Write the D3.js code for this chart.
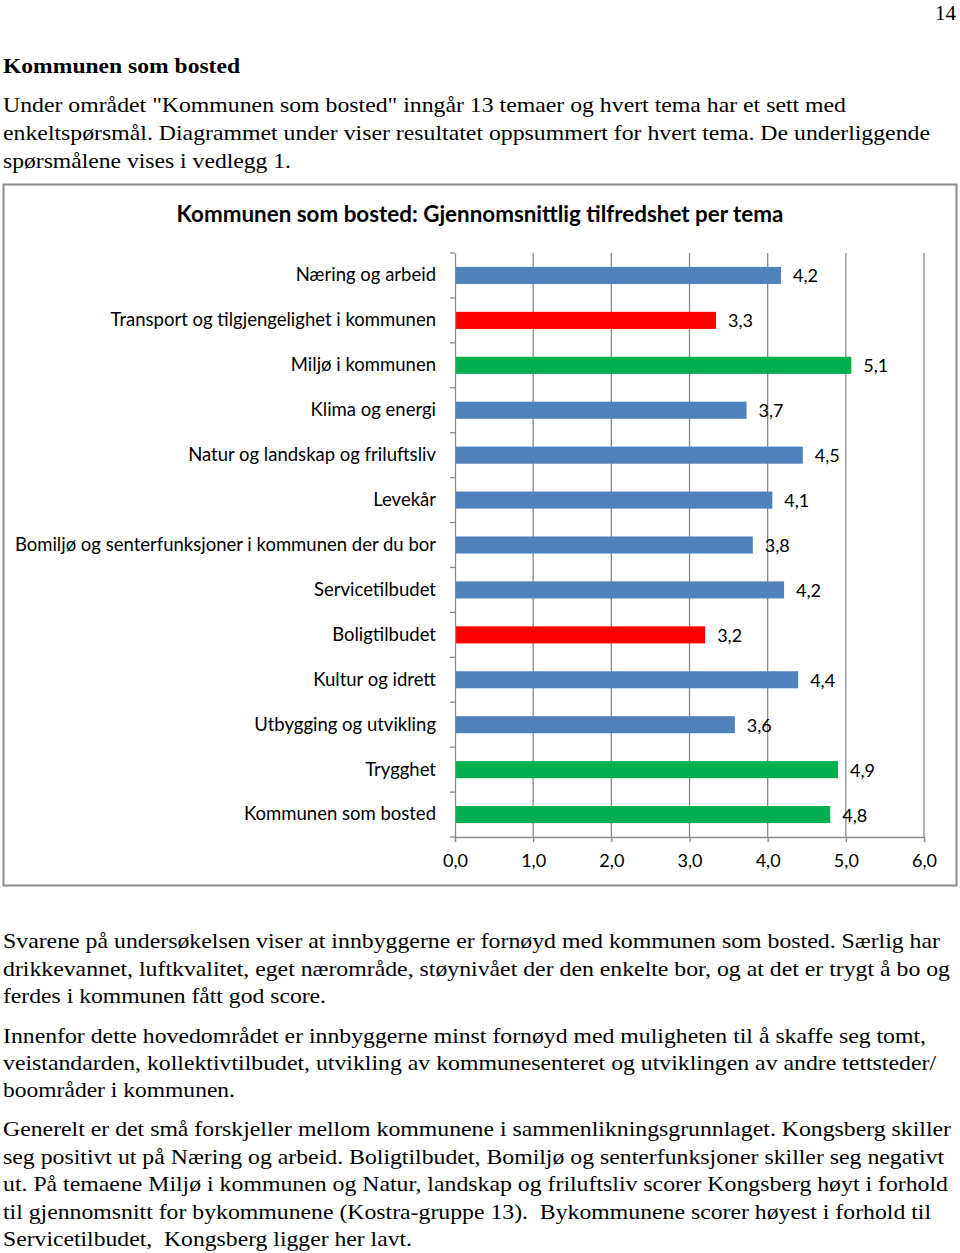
<!DOCTYPE html>
<html><head><meta charset="utf-8">
<script src="https://cdn.jsdelivr.net/npm/d3@7"></script>
<style>body{margin:0;background:#fff}svg{display:block}text{white-space:pre}</style>
</head><body>
<script>
const categories = ["Næring og arbeid","Transport og tilgjengelighet i kommunen","Miljø i kommunen","Klima og energi","Natur og landskap og friluftsliv","Levekår","Bomiljø og senterfunksjoner i kommunen der du bor","Servicetilbudet","Boligtilbudet","Kultur og idrett","Utbygging og utvikling","Trygghet","Kommunen som bosted"];
const values = [4.17,3.34,5.07,3.73,4.45,4.06,3.81,4.21,3.20,4.39,3.58,4.90,4.80];
const colorGroups = ["blue","red","green","blue","blue","blue","blue","blue","red","blue","blue","green","green"];
const xTicks = [0,1,2,3,4,5,6];
const title = "Kommunen som bosted: Gjennomsnittlig tilfredshet per tema";
const heading = "Kommunen som bosted";
const introLines = ["Under området \"Kommunen som bosted\" inngår 13 temaer og hvert tema har et sett med","enkeltspørsmål. Diagrammet under viser resultatet oppsummert for hvert tema. De underliggende","spørsmålene vises i vedlegg 1."];
const outroLines = [
 "Svarene på undersøkelsen viser at innbyggerne er fornøyd med kommunen som bosted. Særlig har",
 "drikkevannet, luftkvalitet, eget nærområde, støynivået der den enkelte bor, og at det er trygt å bo og",
 "ferdes i kommunen fått god score.",
 "Innenfor dette hovedområdet er innbyggerne minst fornøyd med muligheten til å skaffe seg tomt,",
 "veistandarden, kollektivtilbudet, utvikling av kommunesenteret og utviklingen av andre tettsteder/",
 "boområder i kommunen.",
 "Generelt er det små forskjeller mellom kommunene i sammenlikningsgrunnlaget. Kongsberg skiller",
 "seg positivt ut på Næring og arbeid. Boligtilbudet, Bomiljø og senterfunksjoner skiller seg negativt",
 "ut. På temaene Miljø i kommunen og Natur, landskap og friluftsliv scorer Kongsberg høyt i forhold",
 "til gjennomsnitt for bykommunene (Kostra-gruppe 13).  Bykommunene scorer høyest i forhold til",
 "Servicetilbudet,  Kongsberg ligger her lavt."];

const W = 960, H = 1253;
const svg = d3.select("body").append("svg").attr("width", W).attr("height", H);
const serif = "'Liberation Serif','Times New Roman',serif";
const sans = "Lato, 'Open Sans', sans-serif";

// page text
svg.append("text").attr("x", 956).attr("y", 20).attr("text-anchor","end")
  .attr("font-family", serif).attr("font-size", 21).text("14");
svg.append("text").attr("x", 3).attr("y", 73).attr("font-family", serif)
  .attr("font-size", 22).attr("font-weight","bold").attr("textLength", 237)
  .attr("lengthAdjust","spacingAndGlyphs").text(heading);
const introW = [843, 927, 288];
introLines.forEach((t,i)=>{
  svg.append("text").attr("x",3).attr("y",112+i*28).attr("font-family",serif)
    .attr("font-size",22).attr("textLength",introW[i]).attr("lengthAdjust","spacingAndGlyphs").text(t);
});
const outroW = [937,947,323,923,933,232,948,941,945,928,409];
const outroY = [948,976,1003,1043,1070,1097,1136,1164,1191,1219,1246];
outroLines.forEach((t,i)=>{
  svg.append("text").attr("x",3).attr("y",outroY[i]).attr("font-family",serif)
    .attr("font-size",22).attr("textLength",outroW[i]).attr("lengthAdjust","spacingAndGlyphs").text(t);
});

// chart frame
svg.append("rect").attr("x",3.5).attr("y",184.5).attr("width",953).attr("height",701)
  .attr("fill","#fff").attr("stroke","#8c8c8c").attr("stroke-width",2);
svg.append("text").attr("x",480).attr("y",222).attr("text-anchor","middle")
  .attr("font-family",sans).attr("font-weight","bold").attr("font-size",22.4).text(title);

const x = d3.scaleLinear().domain([0,6]).range([455,924]);
const y = d3.scaleBand().domain(categories).range([253,837]).paddingInner(0.62).paddingOuter(0.31);
const colors = {blue:"#4F81BD", red:"#FF0000", green:"#00B050"};

// gridlines
svg.append("g").selectAll("line").data(xTicks.slice(1)).join("line")
  .attr("x1",d=>x(d)).attr("x2",d=>x(d)).attr("y1",253).attr("y2",837)
  .attr("stroke","#8a8a8a").attr("stroke-width",1.3);

// bars
svg.append("g").selectAll("rect").data(values).join("rect")
  .attr("x",x(0)).attr("y",(d,i)=>y(categories[i]))
  .attr("width",d=>x(d)-x(0)).attr("height",y.bandwidth())
  .attr("fill",(d,i)=>colors[colorGroups[i]]);

// value labels
const fmt = d => d3.format(".1f")(d).replace(".",",");
svg.append("g").selectAll("text").data(values).join("text")
  .attr("x",d=>x(d)+12).attr("y",(d,i)=>y(categories[i])+y.bandwidth()/2+7)
  .attr("font-family",sans).attr("font-size",18).attr("fill","#000").text(fmt);

// x axis
const xAxis = d3.axisBottom(x).tickValues(xTicks).tickSize(5).tickPadding(12).tickFormat(fmt);
const gx = svg.append("g").attr("transform","translate(0,837)").call(xAxis);
gx.select(".domain").attr("stroke","#8a8a8a").attr("stroke-width",1.3);
gx.selectAll(".tick line").attr("stroke","#8a8a8a").attr("stroke-width",1.3);
gx.selectAll(".tick text").attr("font-family",sans).attr("font-size",18).attr("fill","#000");

// y axis
const yAxis = d3.axisLeft(y).tickSize(0).tickPadding(19);
const gy = svg.append("g").attr("transform","translate(455,0)").call(yAxis);
gy.select(".domain").attr("stroke","#8a8a8a").attr("stroke-width",1.3);
gy.selectAll(".tick text").attr("font-family",sans).attr("font-size",18.5).attr("fill","#000");
const step = y.step();
const bounds = d3.range(categories.length+1).map(i=>253+i*step);
svg.append("g").selectAll("line").data(bounds).join("line")
  .attr("x1",450).attr("x2",455).attr("y1",d=>d).attr("y2",d=>d)
  .attr("stroke","#8a8a8a").attr("stroke-width",1.3);
</script>
</body></html>
